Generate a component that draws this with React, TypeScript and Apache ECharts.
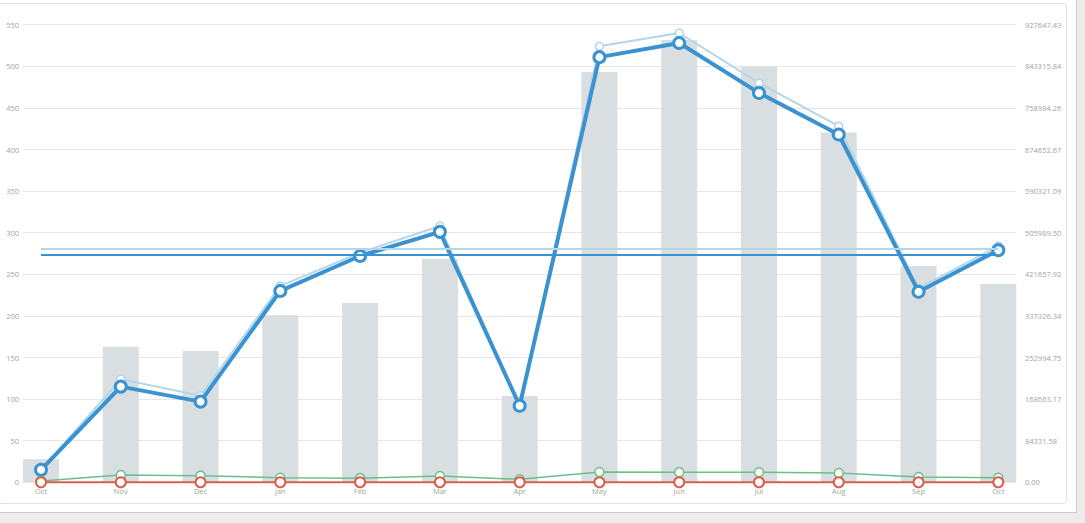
import React, { useEffect, useRef } from "react";
import * as echarts from "echarts";

const months = ["Oct", "Nov", "Dec", "Jan", "Feb", "Mar", "Apr", "May", "Jun", "Jul", "Aug", "Sep", "Oct"];
const barValues = [46550, 274750, 266150, 338500, 363470, 452860, 174900, 831510, 896780, 842640, 708890, 438520, 402090];
const lightLine = [15, 124, 104, 236, 276, 308, 92, 524, 540, 480, 428, 233, 284];
const darkLine = [15, 115, 97, 230, 272, 301, 92, 511, 528, 468, 418, 229, 279];
const greenLine = [1.5, 8.8, 8, 5.5, 5, 7.6, 3.6, 12.4, 12.2, 12, 11.2, 6.4, 5.5];
const redLine = [0, 0, 0, 0, 0, 0, 0, 0, 0, 0, 0, 0, 0];
const leftMax = 550;
const leftStep = 50;
const rightTickLabels = [
  "0.00", "84331.58", "168663.17", "252994.75", "337326.34", "421657.92",
  "505989.50", "590321.09", "674652.67", "758984.26", "843315.84", "927647.43",
];
const rightMax = 927647.43;

const labelColor = "#a3a3a3";
const font = "'Open Sans', 'Noto Sans', sans-serif";

function lineSeries(name: string, data: number[], color: string, width: number, size: number, border: number, z: number, mark: boolean) {
  const s: any = {
    name,
    type: "line",
    xAxisIndex: 1,
    yAxisIndex: 2,
    data,
    clip: false,
    symbol: "circle",
    symbolSize: size,
    z,
    lineStyle: { color, width },
    itemStyle: { color: "#ffffff", borderColor: color, borderWidth: border },
  };
  if (mark) {
    s.markLine = {
      silent: true,
      symbol: "none",
      label: { show: false },
      lineStyle: { color, width: 2, type: "solid" },
      data: [{ type: "average" }],
    };
  }
  return s;
}

export default function App() {
  const ref = useRef<HTMLDivElement>(null);
  useEffect(() => {
    if (!ref.current) return;
    const chart = echarts.init(ref.current, undefined, { renderer: "svg" });
    const rightStep = rightMax / 11;
    const gridTop = 24.7;
    const gridBottom = 40.7;
    chart.setOption({
      animation: false,
      textStyle: { fontFamily: font },
      grid: [
        { left: 23, right: 69, top: gridTop, bottom: gridBottom },
        { left: 41, right: 86.7, top: gridTop, bottom: gridBottom },
      ],
      xAxis: [
        {
          type: "category",
          gridIndex: 0,
          data: months,
          show: false,
        },
        {
          type: "category",
          gridIndex: 1,
          data: months,
          boundaryGap: false,
          axisLine: { show: false },
          axisTick: { show: false },
          splitLine: { show: false },
          axisLabel: { color: labelColor, fontSize: 7.5, margin: 5, fontFamily: font, interval: 0 },
        },
      ],
      yAxis: [
        {
          type: "value",
          gridIndex: 0,
          position: "left",
          min: 0,
          max: leftMax,
          interval: leftStep,
          axisLine: { show: false },
          axisTick: { show: false },
          splitLine: { show: true, lineStyle: { color: "#e6e6e6", width: 1 } },
          axisLabel: { color: labelColor, fontSize: 7.5, margin: 4, fontFamily: font },
        },
        {
          type: "value",
          gridIndex: 0,
          position: "right",
          min: 0,
          max: rightMax,
          interval: rightStep,
          axisLine: { show: false },
          axisTick: { show: false },
          splitLine: { show: false },
          axisLabel: {
            color: labelColor,
            fontSize: 7.5,
            margin: 9,
            fontFamily: font,
            formatter: (v: number) => rightTickLabels[Math.round(v / rightStep)] ?? "",
          },
        },
        {
          type: "value",
          gridIndex: 1,
          position: "left",
          min: 0,
          max: leftMax,
          interval: leftStep,
          show: false,
          splitLine: { show: false },
        },
        {
          type: "value",
          gridIndex: 1,
          position: "right",
          min: 0,
          max: rightMax,
          interval: rightStep,
          show: false,
          splitLine: { show: false },
        },
      ],
      series: [
        {
          name: "Bars",
          type: "bar",
          xAxisIndex: 1,
          yAxisIndex: 3,
          data: barValues,
          barWidth: 36,
          clip: false,
          z: 1,
          itemStyle: { color: "#d9dee1" },
        },
        lineSeries("Light", lightLine, "#b2d6ea", 2, 8, 1.5, 3, true),
        lineSeries("Dark", darkLine, "#3b92d1", 4, 11, 3, 4, true),
        lineSeries("Green", greenLine, "#6cbf8b", 1.5, 9, 1.5, 5, false),
        lineSeries("Red", redLine, "#d6604a", 2, 10, 2, 6, false),
      ],
    });
    return () => chart.dispose();
  }, []);

  return (
    <div style={{ position: "fixed", left: 0, top: 0, width: 1085, height: 523, background: "#ececec", overflow: "hidden" }}>
      <div
        style={{
          position: "absolute",
          left: -2,
          top: -2,
          width: 1078,
          height: 514,
          background: "#ffffff",
          borderRight: "1px solid #c9c9c9",
          borderBottom: "1px solid #c9c9c9",
        }}
      />
      <div
        style={{
          position: "absolute",
          left: -2,
          top: 3,
          width: 1067,
          height: 499,
          border: "1px solid #e3e3e3",
          borderRadius: 3,
        }}
      />
      <div ref={ref} style={{ position: "absolute", left: 0, top: 0, width: 1085, height: 523 }} />
    </div>
  );
}
